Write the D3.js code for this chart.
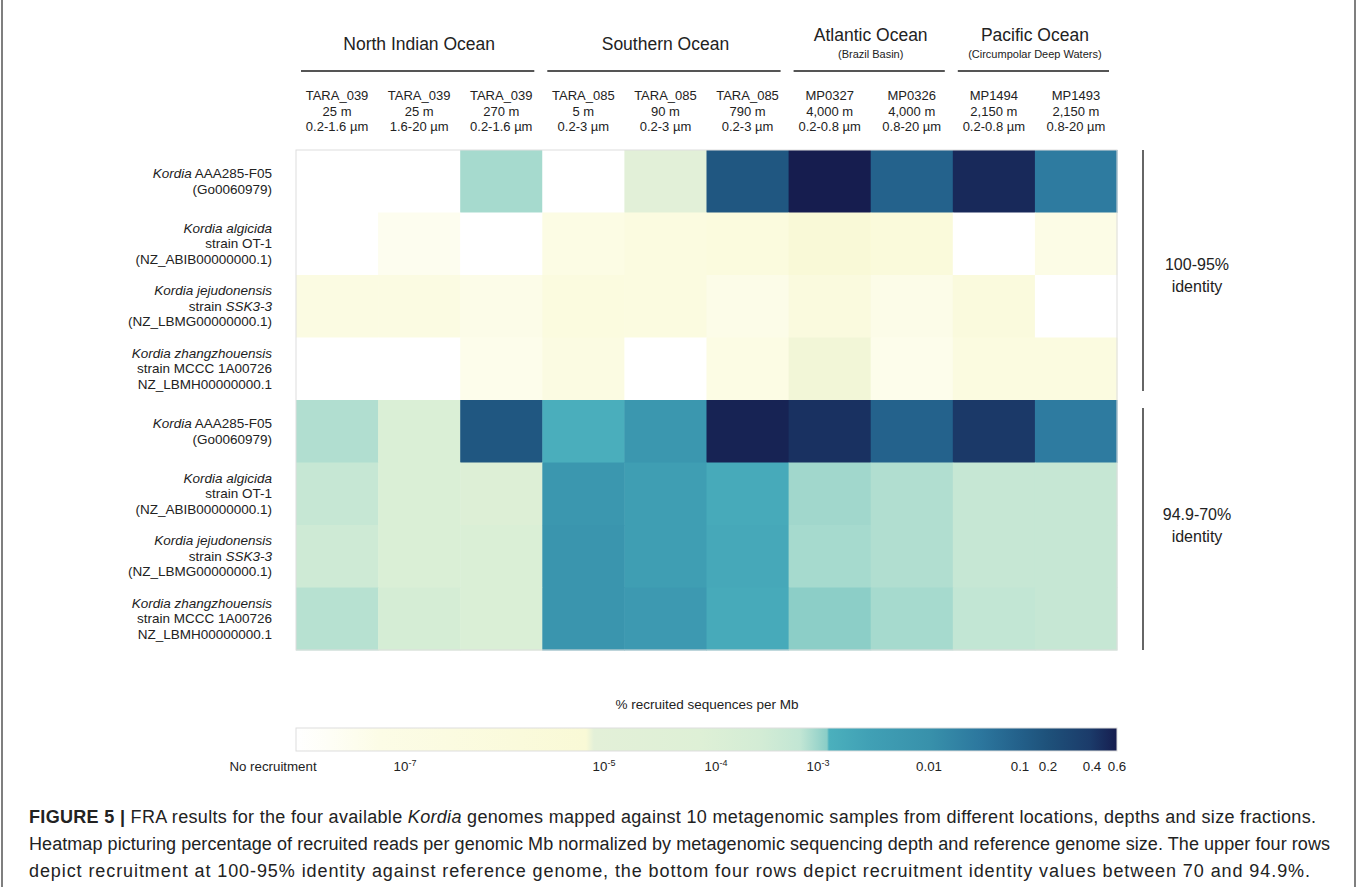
<!DOCTYPE html>
<html>
<head>
<meta charset="utf-8">
<script src="https://cdn.jsdelivr.net/npm/d3@7"></script>
<style>
  body { margin: 0; background: #fff; }
  svg { display: block; font-family: "Liberation Sans", Arial, sans-serif; }
</style>
</head>
<body>
<div id="chart"></div>
<script>
// samples (columns)
const sampleIds = ["TARA_039", "TARA_039", "TARA_039", "TARA_085", "TARA_085", "TARA_085", "MP0327", "MP0326", "MP1494", "MP1493"]
const sampleDepths = ["25 m", "25 m", "270 m", "5 m", "90 m", "790 m", "4,000 m", "4,000 m", "2,150 m", "2,150 m"]
const sampleFractions = ["0.2-1.6 µm", "1.6-20 µm", "0.2-1.6 µm", "0.2-3 µm", "0.2-3 µm", "0.2-3 µm", "0.2-0.8 µm", "0.8-20 µm", "0.2-0.8 µm", "0.8-20 µm"]

// ocean groups over the samples
const oceanNames = ["North Indian Ocean", "Southern Ocean", "Atlantic Ocean", "Pacific Ocean"]
const oceanSubtitles = ["", "", "(Brazil Basin)", "(Circumpolar Deep Waters)"]
const oceanSampleCounts = [3, 3, 2, 2]

// genomes (rows), each line is a list of [text, italic] parts
const genomeLabels = [
  [[["Kordia", true], [" AAA285-F05", false]], [["(Go0060979)", false]]],
  [[["Kordia algicida", true]], [["strain OT-1", false]], [["(NZ_ABIB00000000.1)", false]]],
  [[["Kordia jejudonensis", true]], [["strain ", false], ["SSK3-3", true]], [["(NZ_LBMG00000000.1)", false]]],
  [[["Kordia zhangzhouensis", true]], [["strain MCCC 1A00726", false]], [["NZ_LBMH00000000.1", false]]]
]
const identityBands = ["100-95%", "94.9-70%"]

// % recruited sequences per Mb, 0 = no recruitment
const recruitHighIdentity = [
  [0, 0, 9e-4, 0, 1.1e-5, 0.15, 0.6, 0.09, 0.5, 0.03],
  [0, 3e-8, 0, 1e-7, 3e-7, 6e-7, 4.5e-6, 1.4e-6, 0, 6e-8],
  [2e-7, 2e-7, 5e-8, 5e-7, 3e-7, 5e-8, 7e-7, 5e-8, 8e-7, 0],
  [0, 0, 4e-8, 2e-7, 0, 1e-7, 7e-6, 4e-8, 3e-7, 3e-7]
]
const recruitLowIdentity = [
  [8e-4, 1.1e-4, 0.15, 1.4e-3, 6e-3, 0.55, 0.45, 0.09, 0.4, 0.03],
  [5.4e-4, 1.1e-4, 8.5e-5, 6e-3, 3.6e-3, 1.7e-3, 9.5e-4, 8e-4, 5.4e-4, 5.4e-4],
  [3.5e-4, 1.1e-4, 1.1e-4, 7e-3, 3.6e-3, 1.9e-3, 9e-4, 8e-4, 5.4e-4, 5.5e-4],
  [7.5e-4, 2e-4, 1.1e-4, 7e-3, 5e-3, 1.7e-3, 1.18e-3, 9e-4, 6.6e-4, 5.4e-4]
]

// legend ticks
const legendTickValues = [1e-7, 1e-5, 1e-4, 1e-3, 0.01, 0.1, 0.2, 0.4, 0.6]
const legendTickBases = ["10", "10", "10", "10", "0.01", "0.1", "0.2", "0.4", "0.6"]
const legendTickExponents = ["-7", "-5", "-4", "-3", "", "", "", "", ""]
const legendFloor = 10 ** -8.1

// caption lines, each a list of [text, style] parts
const captionLines = [
  [["FIGURE 5 | ", "bold"], ["FRA results for the four available ", ""], ["Kordia", "italic"], [" genomes mapped against 10 metagenomic samples from different locations, depths and size fractions.", ""]],
  [["Heatmap picturing percentage of recruited reads per genomic Mb normalized by metagenomic sequencing depth and reference genome size. The upper four rows", ""]],
  [["depict recruitment at 100-95% identity against reference genome, the bottom four rows depict recruitment identity values between 70 and 94.9%.", ""]]
]
const captionWidths = [1287, 1301, 1281]

const width = 1357
const height = 887
const textColor = "#222"

const svg = d3.select("#chart").append("svg")
  .attr("width", width)
  .attr("height", height)

// frame
svg.append("line").attr("x1", 2).attr("x2", 2).attr("y1", 0).attr("y2", height).attr("stroke", "#555").attr("stroke-width", 1.5)
svg.append("line").attr("x1", width - 2).attr("x2", width - 2).attr("y1", 0).attr("y2", height).attr("stroke", "#555").attr("stroke-width", 1.5)

// heatmap scales
const rows = recruitHighIdentity.concat(recruitLowIdentity)
const xScale = d3.scaleBand().domain(d3.range(sampleIds.length)).range([296, 1117])
const yScale = d3.scaleBand().domain(d3.range(rows.length)).range([150, 650])

// legend position scale (log10 value -> px), uneven like the original bar
const legendLogs = [Math.log10(legendFloor)].concat(legendTickValues.map(Math.log10))
const legendPx = [296, 405, 604, 716, 818, 929, 1020, 1048, 1092, 1117]
const legendX = d3.scaleLinear().domain(legendLogs).range(legendPx).clamp(true)

// colour along the legend bar
const colorStopPx = [296, 330, 380, 586, 594, 700, 760, 800, 827, 829, 870, 929, 980, 1020, 1048, 1090, 1117]
const colorStopColors = ["#ffffff", "#fefef6", "#fcfce6", "#f9f9d6", "#e3f0d8", "#def0d6", "#d3ecd5", "#c2e6d4",
                         "#8acdc7", "#4bb0bd", "#40a0b5", "#3891ab", "#2c779e", "#23608a", "#1e517a", "#1b3b6a", "#161d4f"]
const colorAt = d3.scaleLinear().domain(colorStopPx).range(colorStopColors).interpolate(d3.interpolateRgb).clamp(true)
const cellColor = v => v <= 0 ? "#ffffff" : colorAt(legendX(Math.log10(v)))

// cells
const cells = rows.flatMap((r, i) => r.map((v, j) => ({row: i, col: j, value: v})))
svg.append("g")
   .selectAll("rect")
   .data(cells)
   .join("rect")
   .attr("x", d => xScale(d.col))
   .attr("y", d => yScale(d.row))
   .attr("width", xScale.bandwidth() + 0.5)
   .attr("height", yScale.bandwidth() + 0.5)
   .attr("fill", d => cellColor(d.value))
svg.append("rect")
   .attr("x", 296).attr("y", 150)
   .attr("width", xScale.range()[1] - 296).attr("height", 500)
   .attr("fill", "none").attr("stroke", "#ddd").attr("stroke-width", 1)

// ocean headers
let start = 0
oceanNames.forEach((name, k) => {
  const end = start + oceanSampleCounts[k]
  const x0 = xScale(start)
  const x1 = xScale(end - 1) + xScale.bandwidth()
  const cx = (x0 + x1) / 2
  const hasSub = oceanSubtitles[k] !== ""
  svg.append("text")
     .attr("x", cx).attr("y", hasSub ? 41 : 50)
     .attr("text-anchor", "middle")
     .attr("font-size", "17.5px")
     .attr("fill", textColor)
     .text(name)
  if (hasSub) {
    svg.append("text")
       .attr("x", cx).attr("y", 58)
       .attr("text-anchor", "middle")
       .attr("font-size", "11px")
       .attr("fill", textColor)
       .text(oceanSubtitles[k])
  }
  svg.append("line")
     .attr("x1", x0 + 5).attr("x2", x1 - 8)
     .attr("y1", 71).attr("y2", 71)
     .attr("stroke", "#555").attr("stroke-width", 2)
  start = end
})

// sample labels
const sampleLines = [sampleIds, sampleDepths, sampleFractions]
sampleLines.forEach((lines, li) => {
  svg.append("g")
     .selectAll("text")
     .data(lines)
     .join("text")
     .attr("x", (d, i) => xScale(i) + xScale.bandwidth() / 2)
     .attr("y", 100 + li * 15.5)
     .attr("text-anchor", "middle")
     .attr("font-size", "13px")
     .attr("fill", textColor)
     .text(d => d)
})

// genome labels (same four genomes for both identity bands)
const lineGap = 15.5
rows.forEach((r, i) => {
  const label = genomeLabels[i % genomeLabels.length]
  const cy = yScale(i) + yScale.bandwidth() / 2
  const top = cy - (label.length - 1) * lineGap / 2
  label.forEach((parts, li) => {
    const t = svg.append("text")
                 .attr("x", 272)
                 .attr("y", top + li * lineGap + 4.5)
                 .attr("text-anchor", "end")
                 .attr("font-size", "13.5px")
                 .attr("fill", textColor)
    parts.forEach(([s, it]) => {
      t.append("tspan").attr("font-style", it ? "italic" : "normal").text(s)
    })
  })
})

// identity brackets
identityBands.forEach((band, k) => {
  const y0 = yScale(k * 4)
  const y1 = yScale(k * 4 + 3) + yScale.bandwidth()
  svg.append("line")
     .attr("x1", 1143).attr("x2", 1143)
     .attr("y1", y0 + (k ? 8 : 0)).attr("y2", y1 - (k ? 0 : 9))
     .attr("stroke", "#333").attr("stroke-width", 1.5)
  const cy = (y0 + y1) / 2
  const t = svg.append("text")
               .attr("x", 1197).attr("text-anchor", "middle")
               .attr("font-size", "16px").attr("fill", textColor)
  t.append("tspan").attr("x", 1197).attr("y", cy - 5).text(band)
  t.append("tspan").attr("x", 1197).attr("y", cy + 17).text("identity")
})

// legend
svg.append("text")
   .attr("x", 707).attr("y", 709)
   .attr("text-anchor", "middle")
   .attr("font-size", "13.5px")
   .attr("fill", textColor)
   .text("% recruited sequences per Mb")

const grad = svg.append("defs").append("linearGradient").attr("id", "legendGrad")
grad.selectAll("stop")
    .data(colorStopPx)
    .join("stop")
    .attr("offset", d => (d - 296) / (1117 - 296))
    .attr("stop-color", (d, i) => colorStopColors[i])
svg.append("rect")
   .attr("x", 296).attr("y", 728)
   .attr("width", 1117 - 296).attr("height", 23)
   .attr("fill", "url(#legendGrad)")
   .attr("stroke", "#ddd").attr("stroke-width", 1)

svg.append("text")
   .attr("x", 273).attr("y", 771)
   .attr("text-anchor", "middle")
   .attr("font-size", "13.3px")
   .attr("fill", textColor)
   .text("No recruitment")

legendTickValues.forEach((v, i) => {
  const t = svg.append("text")
               .attr("x", legendX(Math.log10(v))).attr("y", 771)
               .attr("text-anchor", "middle")
               .attr("font-size", "13.3px")
               .attr("fill", textColor)
  t.append("tspan").text(legendTickBases[i])
  if (legendTickExponents[i]) {
    t.append("tspan").attr("font-size", "9px").attr("dy", -5).text(legendTickExponents[i])
  }
})

// caption
captionLines.forEach((parts, li) => {
  const t = svg.append("text")
               .attr("x", 29).attr("y", 823 + li * 27)
               .attr("font-size", "18px")
               .attr("textLength", captionWidths[li])
               .attr("lengthAdjust", "spacing")
               .attr("fill", textColor)
  parts.forEach(([s, style]) => {
    t.append("tspan")
     .attr("font-weight", style === "bold" ? "bold" : "normal")
     .attr("font-style", style === "italic" ? "italic" : "normal")
     .text(s)
  })
})
</script>
</body>
</html>
